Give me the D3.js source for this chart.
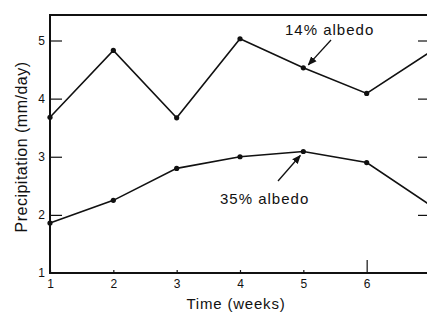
<!DOCTYPE html>
<html>
<head>
<meta charset="utf-8">
<script src="https://cdn.jsdelivr.net/npm/d3@7"></script>
<style>
  body { margin: 0; background: #fff; }
  svg text { font-family: "Liberation Sans", Arial, sans-serif; fill: #111; }
</style>
</head>
<body>
<div id="chart"></div>
<script>
var weeks = [1, 2, 3, 4, 5, 6, 7];
var albedo14 = [3.68, 4.83, 3.67, 5.03, 4.53, 4.09, 4.8];
var albedo35 = [1.86, 2.25, 2.8, 3.0, 3.09, 2.9, 2.17];
var xTicks = [1, 2, 3, 4, 5, 6];
var yTicks = [1, 2, 3, 4, 5];

var svgWidth = 427;
var svgHeight = 313;

var svg = d3.select('#chart')
    .append('svg')
    .attr('width', svgWidth)
    .attr('height', svgHeight);

var x = d3.scaleLinear().domain([1, 7]).range([50, 430]);
var y = d3.scaleLinear().domain([1, 5]).range([273, 40.5]);
var frameTop = 15;

// frame
svg.append('rect')
    .attr('x', x(1))
    .attr('y', frameTop)
    .attr('width', x(7) - x(1))
    .attr('height', y(1) - frameTop)
    .attr('fill', 'none')
    .attr('stroke', '#111')
    .attr('stroke-width', 2);

// bottom axis, small ticks pointing up
var xAxis = svg.append('g')
    .attr('transform', 'translate(0,' + y(1) + ')')
    .call(d3.axisBottom(x).tickValues(xTicks).tickSizeInner(-3).tickSizeOuter(0).tickPadding(6).tickFormat(d3.format('d')));
xAxis.select('.domain').remove();
xAxis.selectAll('.tick line').attr('stroke', '#111').attr('stroke-width', 1.2)
    .filter(function(d) { return d === 6; }).attr('y2', -13);
xAxis.selectAll('.tick text').attr('font-size', 12).attr('font-family', '"Liberation Serif", serif');

// left axis
var yAxis = svg.append('g')
    .attr('transform', 'translate(' + x(1) + ',0)')
    .call(d3.axisLeft(y).tickValues(yTicks).tickSizeInner(-12).tickSizeOuter(0).tickPadding(5).tickFormat(d3.format('d')));
yAxis.select('.domain').remove();
yAxis.selectAll('.tick line').attr('stroke', '#111').attr('stroke-width', 1.2)
    .filter(function(d) { return d === 1; }).remove();
yAxis.selectAll('.tick text').attr('font-size', 12).attr('font-family', '"Liberation Serif", serif');

// right axis, ticks only
var rAxis = svg.append('g')
    .attr('transform', 'translate(' + x(7) + ',0)')
    .call(d3.axisRight(y).tickValues([2, 3, 4, 5]).tickSizeInner(-12).tickSizeOuter(0).tickFormat(''));
rAxis.select('.domain').remove();
rAxis.selectAll('.tick line').attr('stroke', '#111').attr('stroke-width', 1.2);

// series
var line = d3.line()
    .x(function(d, i) { return x(weeks[i]); })
    .y(function(d) { return y(d); });

[albedo14, albedo35].forEach(function(series) {
    svg.append('path')
        .datum(series)
        .attr('d', line)
        .attr('fill', 'none')
        .attr('stroke', '#111')
        .attr('stroke-width', 1.6);
    svg.selectAll(null)
        .data(series)
        .enter()
        .append('circle')
        .attr('cx', function(d, i) { return x(weeks[i]); })
        .attr('cy', function(d) { return y(d); })
        .attr('r', 2.6)
        .attr('fill', '#111');
});

// arrows and labels
svg.append('defs').append('marker')
    .attr('id', 'arr')
    .attr('viewBox', '0 0 10 10')
    .attr('refX', 9)
    .attr('refY', 5)
    .attr('markerWidth', 7)
    .attr('markerHeight', 7)
    .attr('orient', 'auto')
    .append('path')
    .attr('d', 'M0,1 L10,5 L0,9 Z')
    .attr('fill', '#111');

svg.append('line')
    .attr('x1', 331).attr('y1', 40)
    .attr('x2', x(5) + 5).attr('y2', y(albedo14[4]) - 3)
    .attr('stroke', '#111').attr('stroke-width', 1.3)
    .attr('marker-end', 'url(#arr)');
svg.append('text')
    .attr('x', 285).attr('y', 35)
    .attr('font-size', 15)
    .attr('letter-spacing', 1)
    .text('14% albedo');

svg.append('line')
    .attr('x1', 278).attr('y1', 181)
    .attr('x2', x(5) - 3).attr('y2', y(albedo35[4]) + 4)
    .attr('stroke', '#111').attr('stroke-width', 1.3)
    .attr('marker-end', 'url(#arr)');
svg.append('text')
    .attr('x', 220).attr('y', 204)
    .attr('font-size', 15)
    .attr('letter-spacing', 1)
    .text('35% albedo');

// axis titles
svg.append('text')
    .attr('x', 236).attr('y', 309)
    .attr('text-anchor', 'middle')
    .attr('font-size', 15)
    .attr('letter-spacing', 0.8)
    .text('Time (weeks)');

svg.append('text')
    .attr('transform', 'translate(27,147) rotate(-90)')
    .attr('text-anchor', 'middle')
    .attr('font-size', 16)
    .attr('letter-spacing', 0.5)
    .text('Precipitation (mm/day)');
</script>
</body>
</html>
